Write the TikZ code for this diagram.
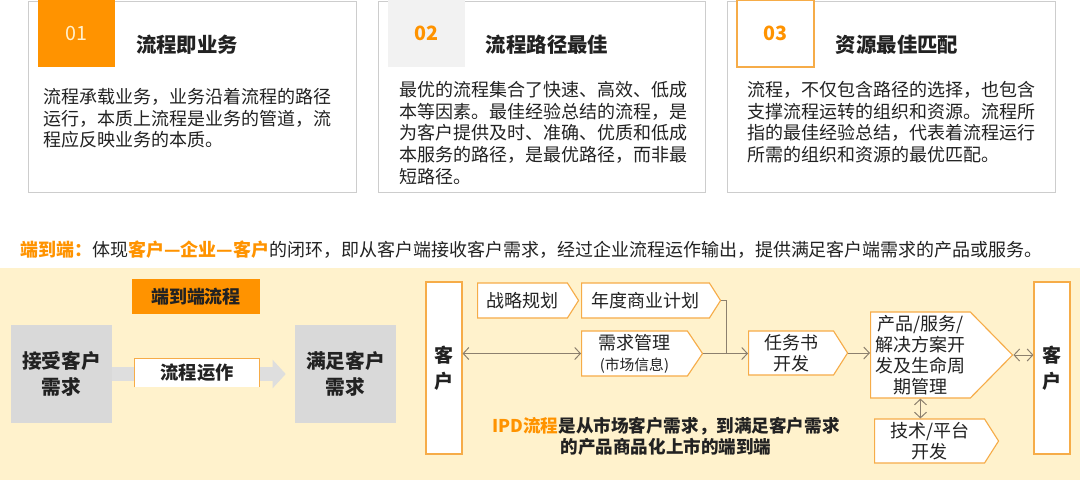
\documentclass[tikz,border=0pt]{standalone}
\usepackage{fontspec}
\setmainfont{Noto Sans CJK SC}
\definecolor{orangemain}{RGB}{255, 147, 0}
\definecolor{orangeline}{RGB}{246, 172, 72}
\definecolor{panelyellow}{RGB}{255, 242, 204}
\definecolor{boxgray}{RGB}{217, 217, 217}
\definecolor{arrowgray}{RGB}{222, 222, 222}
\definecolor{numgray}{RGB}{242, 242, 242}
\definecolor{numlight}{RGB}{255, 240, 205}
\definecolor{cardline}{RGB}{205, 205, 205}
\definecolor{linebrown}{RGB}{140, 128, 110}
\definecolor{textdark}{RGB}{34, 34, 34}
\usetikzlibrary{shapes.symbols, arrows.meta, positioning, calc}

\begin{document}
\begin{tikzpicture}[
  card/.style={draw=cardline, line width=0.6pt, fill=white},
  numbox/.style={minimum width=1.925cm, minimum height=1.675cm, inner sep=0pt, font=\fontsize{14}{16}\selectfont},
  cardtitle/.style={font=\fontsize{14.5}{17}\selectfont\bfseries, text=textdark},
  cardtext/.style={anchor=north west, inner sep=0pt, align=left, font=\fontsize{12.8}{15.4}\selectfont, text=textdark},
  graybox/.style={fill=boxgray, minimum width=2.525cm, minimum height=2.45cm, align=center, font=\fontsize{14}{18}\selectfont\bfseries, text=textdark},
  kehubox/.style={draw=orangeline, fill=white, line width=0.8pt, minimum width=0.9cm, minimum height=4.3cm, align=center, font=\fontsize{13.5}{18.5}\selectfont\bfseries, text=textdark},
  stage/.style={shape=signal, signal to=east, signal pointer angle=115, draw=orangeline, fill=white, line width=0.8pt, anchor=west, inner sep=2pt, align=center, font=\fontsize{12.8}{15}\selectfont, text=textdark},
  link/.style={draw=linebrown, line width=0.7pt},
  oneway/.style={link, -{Straight Barb[length=1.4mm, width=3mm]}},
  twoway/.style={link, {Straight Barb[length=1.4mm, width=3mm]}-{Straight Barb[length=1.4mm, width=3mm]}}
]
  \useasboundingbox (0,0) rectangle (27,-12);
  \fill[panelyellow] (0,-6.7) rectangle (27,-12);

  % three cards
  \draw[card] (0.7,-0.025) rectangle (8.9,-4.8);
  \draw[card] (9.45,-0.025) rectangle (17.625,-4.8);
  \draw[card] (18.175,-0.025) rectangle (26.375,-4.8);

  \node[numbox, fill=orangemain, text=numlight] (num1) at (1.9125,-0.8375) {01};
  \node[numbox, fill=numgray, text=orangemain, font=\fontsize{14}{16}\selectfont\bfseries] (num2) at (10.65,-0.8375) {02};
  \node[numbox, draw=orangeline, line width=0.8pt, fill=white, text=orangemain, font=\fontsize{14}{16}\selectfont\bfseries] (num3) at (19.3875,-0.8375) {03};

  \node[cardtitle] (title1) at (4.675,-1.125) {流程即业务};
  \node[cardtitle] (title2) at (13.675,-1.125) {流程路径最佳};
  \node[cardtitle] (title3) at (22.425,-1.125) {资源最佳匹配};

  \node[cardtext] (text1) at (1.075,-2.2) {流程承载业务，业务沿着流程的路径\\运行，本质上流程是业务的管道，流\\程应反映业务的本质。};
  \node[cardtext] (text2) at (9.975,-2.025) {最优的流程集合了快速、高效、低成\\本等因素。最佳经验总结的流程，是\\为客户提供及时、准确、优质和低成\\本服务的路径，是最优路径，而非最\\短路径。};
  \node[cardtext] (text3) at (18.675,-2.025) {流程，不仅包含路径的选择，也包含\\支撑流程运转的组织和资源。流程所\\指的最佳经验总结，代表着流程运行\\所需的组织和资源的最优匹配。};

  \node[anchor=west, inner sep=0pt, font=\fontsize{12.8}{15}\selectfont, text=textdark] (endtoend) at (0.5,-6.25)
    {\textcolor{orangemain}{\bfseries 端到端：}体现\textcolor{orangemain}{\bfseries 客户—企业—客户}的闭环，即从客户端接收客户需求，经过企业流程运作输出，提供满足客户端需求的产品或服务。};

  % end-to-end flow
  \node[fill=orangemain, minimum width=3.2cm, minimum height=0.875cm, font=\fontsize{12.8}{15}\selectfont\bfseries, text=textdark] (e2eflow) at (4.9,-7.4125) {端到端流程};
  \node[graybox] (accept) at (1.5375,-9.35) {接受客户\\需求};
  \node[graybox] (satisfy) at (8.6375,-9.35) {满足客户\\需求};
  \draw[arrowgray, line width=0.35cm, -{Triangle[length=0.33cm, width=0.7cm]}, shorten >=0.225cm] (accept.east) -- (satisfy.west);
  \node[fill=white, minimum width=3.1cm, minimum height=0.7cm, font=\fontsize{13}{15}\selectfont\bfseries, text=textdark] (operate) at (4.925,-9.325) {流程运作};
  \draw[orangeline, line width=0.8pt] (operate.south west) -- (operate.north west) -- (operate.north east) -- (operate.south east);

  % IPD
  \node[kehubox] (custleft) at (11.1,-9.2) {客\\户};
  \node[kehubox] (custright) at (26.3,-9.2) {客\\户};

  \node[stage, minimum width=2.525cm, minimum height=0.875cm] (strategy) at (11.925,-7.5125) {战略规划};
  \node[stage, minimum width=3.475cm, minimum height=0.875cm] (annual) at (14.525,-7.5125) {年度商业计划};
  \node[stage, minimum width=3.025cm, minimum height=1.125cm, signal pointer angle=112] (demand) at (14.525,-8.8375) {需求管理\\{\fontsize{10.5}{12}\selectfont (市场信息)}};
  \node[stage, minimum width=2.475cm, minimum height=1.1cm] (charter) at (18.7,-8.825) {任务书\\开发};
  \node[stage, minimum width=3.55cm, minimum height=2.15cm, signal pointer angle=91] (product) at (21.75,-8.875) {产品/服务/\\解决方案开\\发及生命周\\期管理};
  \node[stage, minimum width=3.1cm, minimum height=1.1cm] (tech) at (21.85,-11.025) {技术/平台\\开发};

  \coordinate (merge) at (18.15,-8.8375);
  \draw[twoway] (custleft.east |- demand.west) -- (demand.west);
  \draw[link] (annual.east) -| (merge);
  \draw[oneway] (demand.east) -- (demand.east -| charter.west);
  \draw[oneway] (charter.east) -- (charter.east -| product.west);
  \draw[twoway] (product.east) -- (product.east -| custright.west);
  \draw[twoway] (product.south) -- (product.south |- tech.north);

  \node[align=center, font=\fontsize{12.5}{15}\selectfont\bfseries, text=textdark] (ipdnote) at (16.65,-10.9)
    {\textcolor{orangemain}{IPD流程}是从市场客户需求，到满足客户需求\\的产品商品化上市的端到端};
\end{tikzpicture}
\end{document}
